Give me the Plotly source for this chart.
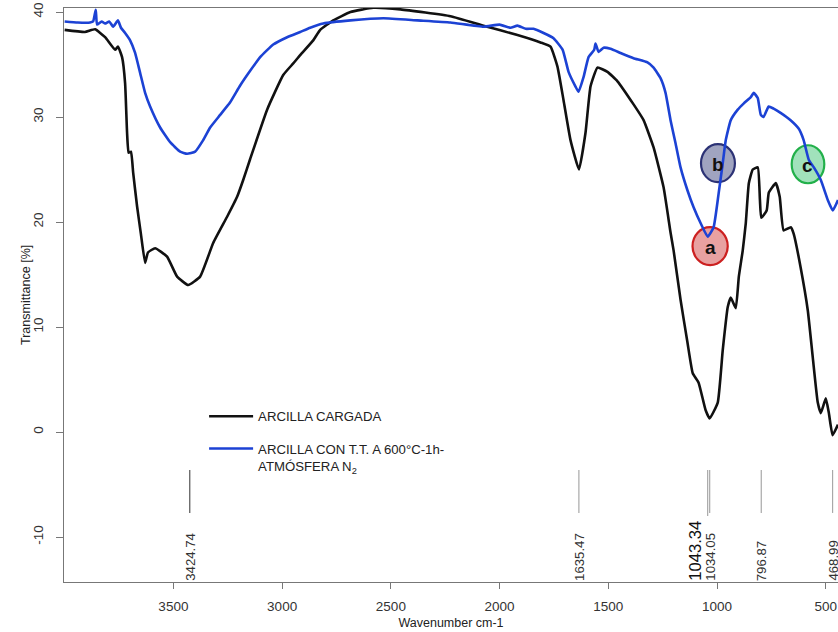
import plotly.graph_objects as go

# FTIR spectra: wavenumber (cm-1) and transmittance (%)
black_wn = [4000, 3907, 3860, 3814, 3768, 3755, 3736, 3722, 3713, 3706, 3695, 3685,
            3667, 3649, 3630, 3617, 3584, 3529, 3483, 3432, 3377, 3317, 3253, 3207,
            3179, 3147, 3069, 2995, 2949, 2917, 2857, 2825, 2765, 2686, 2581, 2456,
            2226, 2074, 1918, 1812, 1766, 1734, 1706, 1674, 1635, 1605, 1582, 1550,
            1504, 1458, 1384, 1338, 1292, 1246, 1214, 1200, 1168, 1136, 1112, 1085,
            1053, 1034, 997, 974, 951, 937, 914, 900, 882, 868, 854, 836, 813, 803,
            797, 772, 762, 730, 712, 694, 661, 648, 616, 583, 560, 537, 523, 500,
            486, 469, 444]
black_t = [38.3, 38.1, 38.35, 37.6, 36.4, 36.7, 35.7, 33.2, 28.5, 26.6, 26.7, 24.7,
           21.5, 18.8, 16.1, 17.1, 17.5, 16.7, 14.8, 14.0, 14.8, 18.0, 20.5, 22.4,
           24.0, 26.0, 30.7, 34.0, 35.1, 35.9, 37.3, 38.3, 39.2, 40.0, 40.4, 40.25,
           39.6, 38.7, 37.8, 37.1, 36.7, 34.8, 31.6, 27.8, 25.0, 28.5, 32.9, 34.7,
           34.3, 33.4, 31.2, 29.7, 27.1, 23.3, 19.0, 17.3, 12.6, 8.5, 5.6, 4.7,
           2.1, 1.3, 2.8, 7.8, 11.9, 12.8, 11.8, 14.8, 17.3, 19.9, 23.7, 25.0, 25.2, 22.1,
           20.4, 21.1, 22.8, 23.7, 22.4, 19.2, 19.5, 18.9, 15.7, 11.6, 7.1, 2.8, 1.8, 3.2,
           1.8, -0.3, 0.7]

blue_wn = [4000, 3940, 3883, 3869, 3857, 3851, 3830, 3814, 3795, 3777, 3755, 3741,
           3722, 3699, 3676, 3653, 3630, 3607, 3561, 3515, 3469, 3437, 3400, 3363,
           3331, 3285, 3239, 3193, 3147, 3101, 3041, 2977, 2917, 2871, 2811, 2686,
           2534, 2378, 2226, 2074, 2000, 1950, 1918, 1880, 1844, 1798, 1752, 1710,
           1683, 1651, 1637, 1614, 1591, 1565, 1559, 1545, 1522, 1490, 1444, 1384,
           1320, 1292, 1260, 1237, 1214, 1191, 1168, 1136, 1108, 1076, 1043, 1016,
           993, 974, 960, 937, 905, 877, 845, 831, 813, 799, 786, 763, 740, 708,
           662, 625, 602, 578, 555, 523, 491, 468, 444]
blue_t = [39.1, 39.0, 39.0, 39.1, 40.2, 38.8, 39.1, 38.9, 39.1, 38.6, 39.2, 38.5,
          38.0, 37.3, 36.1, 34.2, 32.3, 31.0, 29.0, 27.6, 26.7, 26.5, 26.7, 27.8,
          29.0, 30.2, 31.4, 33.0, 34.4, 35.7, 36.9, 37.6, 38.1, 38.5, 38.9, 39.2,
          39.4, 39.2, 39.0, 38.6, 38.8, 38.5, 38.7, 38.4, 38.4, 38.0, 37.5, 36.4,
          34.3, 32.9, 32.4, 33.8, 35.7, 36.4, 37.0, 36.2, 36.6, 36.5, 36.1, 35.6,
          35.2, 34.7, 33.7, 32.3, 29.7, 27.5, 25.2, 23.0, 21.4, 19.9, 18.6, 19.5,
          22.7, 25.6, 27.8, 29.7, 30.7, 31.3, 31.9, 32.3, 31.8, 30.2, 30.0, 31.0, 30.8, 30.4,
          29.7, 28.9, 27.8, 25.9, 25.2, 24.0, 22.1, 21.1, 22.1]

series_names = ["ARCILLA CARGADA",
                "ARCILLA CON T.T. A 600°C-1h-<br>ATMÓSFERA N<sub>2</sub>"]

# Marked band positions (cm-1)
peak_wn = [3424.74, 1635.47, 1043.34, 1034.05, 796.87, 468.99]

x_ticks = [3500, 3000, 2500, 2000, 1500, 1000, 500]
y_ticks = [40, 30, 20, 10, 0, -10]
y_tick_text = ["40", "30", "20", "10", "0", "-10"]

FONT = "Liberation Sans, Arial, sans-serif"

fig = go.Figure()
fig.add_trace(go.Scatter(x=black_wn, y=black_t, mode="lines", name=series_names[0],
                         line=dict(color="#111111", width=2.6, shape="spline", smoothing=0.4),
                         legendgroup="g1"))
fig.add_trace(go.Scatter(x=blue_wn, y=blue_t, mode="lines", name=series_names[1],
                         line=dict(color="#1c42d4", width=2.6, shape="spline", smoothing=0.4),
                         legendgroup="g2"))

shapes = []
annotations = []

# band marker ticks and rotated labels above the x axis
for v in peak_wn:
    main = v == 1043.34
    shapes.append(dict(type="line", xref="x", yref="y", x0=v, x1=v,
                       y0=-3.62, y1=-8.0 if main else -7.71,
                       line=dict(color="#555555" if v == 3424.74 else "#a8a8a8", width=1.2)))
    annotations.append(dict(x=v, y=0, xref="x", yref="paper", text=f"{v:.2f}",
                            textangle=-90, showarrow=False, xanchor="center", yanchor="bottom",
                            xshift=-13 if main else 0, borderpad=0,
                            font=dict(family=FONT, size=16.6 if main else 13.2,
                                      color="#111111" if main else "#333333")))

# labelled circles on the spectra
circles = [("a", 1032, 17.7, 81, "rgba(220,110,110,0.65)", "#cc2020"),
           ("b", 996, 25.6, 78, "rgba(120,125,165,0.7)", "#2c3275"),
           ("c", 582, 25.5, 75, "rgba(110,210,150,0.65)", "#22b04a")]
for label, cx, cy, rx, fill, edge in circles:
    shapes.append(dict(type="circle", xref="x", yref="y", layer="below",
                       x0=cx - rx, x1=cx + rx, y0=cy - 1.81, y1=cy + 1.81,
                       fillcolor=fill, line=dict(color=edge, width=2.2)))
    annotations.append(dict(x=cx, y=cy, xref="x", yref="y", text=f"<b>{label}</b>",
                            showarrow=False, yshift=-1,
                            font=dict(family=FONT, size=19, color="#111111")))

# y axis title, placed beside the rotated tick labels
annotations.append(dict(x=0, y=0.5, xref="paper", yref="paper", text="Transmittance [%]",
                        textangle=-90, showarrow=False, xanchor="center", yanchor="middle",
                        xshift=-38, font=dict(family=FONT, size=12.5, color="#222222")))

fig.update_layout(
    width=838, height=632,
    margin=dict(l=64, r=0, t=8, b=50),
    paper_bgcolor="white", plot_bgcolor="white",
    font=dict(family=FONT, color="#333333"),
    shapes=shapes, annotations=annotations,
    showlegend=True,
    legend=dict(x=0.181, y=0.315, xanchor="left", yanchor="top",
                bgcolor="rgba(0,0,0,0)", borderwidth=0, valign="top",
                tracegroupgap=12, itemwidth=44,
                font=dict(family=FONT, size=13.2, color="#222222")),
    xaxis=dict(range=[4003, 444], tickvals=x_ticks, ticks="outside", ticklen=6,
               tickcolor="#777777", showline=True, linecolor="#777777", linewidth=1,
               mirror=True, showgrid=False, zeroline=False,
               tickfont=dict(family=FONT, size=13.5, color="#333333"),
               ticklabelstandoff=6,
               title=dict(text="Wavenumber cm-1", standoff=5,
                          font=dict(family=FONT, size=12.5, color="#222222"))),
    yaxis=dict(range=[-14.286, 40.381], tickvals=y_ticks, ticktext=y_tick_text,
               ticks="outside", ticklen=7,
               tickcolor="#777777", showline=True, linecolor="#777777", linewidth=1,
               showgrid=False, zeroline=False, tickangle=-90,
               tickfont=dict(family=FONT, size=13.5, color="#333333"),
               ticklabelstandoff=8),
)

fig.write_html("out.html")
